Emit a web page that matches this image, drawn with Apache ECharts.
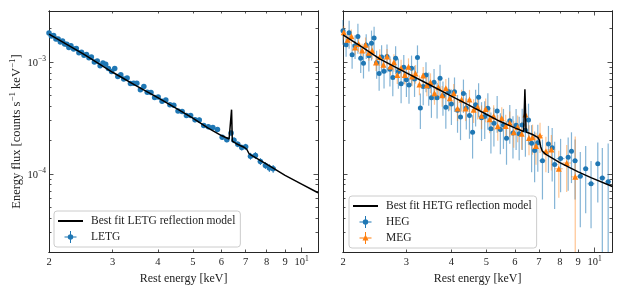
<!DOCTYPE html>
<html><head><meta charset="utf-8">
<script src="https://cdn.jsdelivr.net/npm/echarts@6/dist/echarts.min.js"></script>
<style>html,body{margin:0;padding:0;background:#fff}#c{width:623px;height:291px}</style>
</head><body><div id="c"></div><script>
// ---- data ----
const letgE = [2.00,2.03,2.06,2.09,2.12,2.15,2.18,2.21,2.24,2.27,2.30,2.34,2.38,2.42,2.46,2.50,2.54,2.58,2.62,2.67,2.72,2.77,2.82,2.87,2.92,2.98,3.04,3.10,3.16,3.22,3.29,3.36,3.43,3.50,3.58,3.66,3.74,3.83,3.92,4.01,4.11,4.21,4.32,4.43,4.55,4.67,4.80,4.93,5.07,5.21,5.36,5.52,5.68,5.85,6.03,6.21,6.38,6.50,6.66,6.83,7.00,7.22,7.45,7.69,7.94,8.14,8.34];
const letgF = [1.82e-3,1.71e-3,1.73e-3,1.61e-3,1.61e-3,1.51e-3,1.54e-3,1.45e-3,1.44e-3,1.35e-3,1.40e-3,1.31e-3,1.32e-3,1.21e-3,1.22e-3,1.15e-3,1.17e-3,1.09e-3,1.11e-3,1.00e-3,1.02e-3,9.26e-4,9.80e-4,9.57e-4,8.74e-4,8.24e-4,8.75e-4,7.42e-4,7.68e-4,7.05e-4,7.19e-4,6.44e-4,6.46e-4,6.47e-4,5.66e-4,6.05e-4,5.38e-4,5.35e-4,4.82e-4,4.86e-4,4.46e-4,4.57e-4,4.14e-4,4.11e-4,3.65e-4,3.61e-4,3.33e-4,3.33e-4,3.04e-4,3.03e-4,2.71e-4,2.64e-4,2.60e-4,2.49e-4,2.12e-4,2.02e-4,2.32e-4,2.00e-4,1.84e-4,1.72e-4,1.75e-4,1.44e-4,1.46e-4,1.29e-4,1.19e-4,1.13e-4,1.11e-4];
const letgErr = [0.03,0.03,0.03,0.03,0.03,0.03,0.03,0.03,0.03,0.03,0.03,0.03,0.03,0.03,0.03,0.03,0.03,0.03,0.03,0.03,0.035,0.035,0.035,0.035,0.035,0.035,0.035,0.035,0.035,0.035,0.035,0.035,0.035,0.035,0.035,0.04,0.04,0.04,0.04,0.04,0.04,0.04,0.04,0.04,0.04,0.04,0.04,0.05,0.05,0.05,0.05,0.05,0.05,0.05,0.05,0.05,0.05,0.06,0.06,0.06,0.06,0.07,0.07,0.07,0.07,0.08,0.08];

const hegE = [2.00,2.04,2.08,2.12,2.16,2.20,2.24,2.28,2.32,2.36,2.40,2.44,2.48,2.52,2.56,2.60,2.65,2.70,2.75,2.80,2.85,2.90,2.95,3.00,3.05,3.10,3.16,3.22,3.28,3.34,3.40,3.46,3.52,3.58,3.65,3.72,3.79,3.86,3.93,4.00,4.08,4.16,4.24,4.32,4.40,4.49,4.58,4.67,4.76,4.85,4.95,5.05,5.15,5.25,5.36,5.47,5.58,5.69,5.81,5.93,6.05,6.17,6.29,6.42,6.55,6.68,6.81,6.95,7.16,7.44,7.62,7.74,8.04,8.44,8.62,8.82,9.12,9.44,9.77,10.2,10.5,10.9];
const hegF = [1.90e-3,1.43e-3,1.83e-3,1.16e-3,1.40e-3,1.69e-3,1.08e-3,9.76e-4,1.42e-3,1.14e-3,1.47e-3,1.64e-3,9.84e-4,7.90e-4,1.11e-3,8.29e-4,1.12e-3,8.64e-4,7.26e-4,1.08e-3,8.23e-4,6.38e-4,8.97e-4,6.95e-4,6.23e-4,8.78e-4,7.06e-4,1.10e-3,3.88e-4,6.05e-4,7.67e-4,6.07e-4,4.80e-4,6.61e-4,4.80e-4,7.17e-4,5.00e-4,3.95e-4,5.43e-4,4.21e-4,5.43e-4,3.70e-4,3.23e-4,5.24e-4,3.89e-4,3.32e-4,2.36e-4,4.15e-4,4.83e-4,3.17e-4,3.25e-4,3.87e-4,2.53e-4,2.83e-4,3.65e-4,2.49e-4,2.74e-4,2.08e-4,2.99e-4,2.32e-4,2.72e-4,2.28e-4,2.73e-4,2.45e-4,3.03e-4,1.88e-4,1.62e-4,1.90e-4,1.31e-4,1.85e-4,1.71e-4,1.21e-4,1.37e-4,1.41e-4,1.59e-4,1.31e-4,9.5e-5,1.11e-4,8.15e-5,1.23e-4,9.2e-5,8.5e-5];
const hegErr = [0.25,0.22,0.28,0.25,0.24,0.3,0.26,0.27,0.25,0.28,0.3,0.26,0.28,0.3,0.27,0.3,0.28,0.3,0.32,0.28,0.3,0.33,0.29,0.3,0.32,0.3,0.31,0.28,0.35,0.32,0.3,0.33,0.34,0.31,0.35,0.32,0.34,0.36,0.33,0.35,0.34,0.37,0.38,0.33,0.36,0.38,0.42,0.36,0.34,0.38,0.37,0.36,0.4,0.38,0.36,0.4,0.39,0.42,0.38,0.41,0.4,0.42,0.4,0.42,0.4,0.45,0.48,0.45,0.55,0.45,0.5,0.6,0.5,0.5,0.48,0.55,0.65,0.6,0.6,0.55,0.85,1.2];

const megE = [2.01,2.06,2.11,2.16,2.21,2.26,2.31,2.36,2.41,2.47,2.53,2.59,2.65,2.71,2.77,2.83,2.90,2.97,3.04,3.11,3.18,3.26,3.34,3.42,3.50,3.59,3.68,3.77,3.86,3.96,4.06,4.16,4.27,4.38,4.49,4.61,4.73,4.85,4.98,5.11,5.24,5.38,5.52,5.66,5.81,5.96,6.11,6.27,6.42,6.57,6.72,6.87,7.05,7.32,7.58,7.95,8.36,8.83];
const megF = [1.85e-3,1.58e-3,1.70e-3,1.35e-3,1.45e-3,1.27e-3,1.43e-3,1.21e-3,1.26e-3,9.92e-4,1.11e-3,9.44e-4,1.12e-3,9.13e-4,9.96e-4,7.65e-4,8.86e-4,7.67e-4,9.06e-4,7.41e-4,7.91e-4,6.31e-4,7.59e-4,6.19e-4,6.60e-4,5.25e-4,5.94e-4,5.04e-4,5.84e-4,4.74e-4,5.25e-4,3.85e-4,4.62e-4,3.85e-4,4.62e-4,3.75e-4,3.97e-4,3.30e-4,3.80e-4,3.08e-4,3.28e-4,2.67e-4,3.15e-4,2.68e-4,2.87e-4,2.35e-4,2.62e-4,2.28e-4,3.40e-4,2.09e-4,2.12e-4,1.77e-4,2.2e-4,1.59e-4,1.65e-4,1.11e-4,1.25e-4,9.4e-5];
const megErr = [0.14,0.14,0.15,0.14,0.15,0.15,0.16,0.15,0.16,0.16,0.17,0.16,0.17,0.17,0.18,0.17,0.18,0.18,0.19,0.18,0.19,0.2,0.19,0.2,0.2,0.21,0.2,0.21,0.21,0.22,0.21,0.23,0.22,0.23,0.22,0.24,0.23,0.24,0.24,0.25,0.25,0.26,0.25,0.26,0.26,0.27,0.27,0.28,0.25,0.3,0.3,0.32,0.3,0.35,0.35,0.45,0.45,1.3];

const modelLE = [2.0,2.5,3.0,3.5,4.0,4.5,5.0,5.5,6.0,6.3,6.37,6.40,6.43,6.6,6.95,7.05,7.15,7.25,8.0,9.0,10.0,11.1];
const modelLF = [1.78e-3,1.17e-3,8.1e-4,6.1e-4,4.8e-4,3.85e-4,3.15e-4,2.58e-4,2.2e-4,2.05e-4,1.98e-4,3.75e-4,1.96e-4,1.86e-4,1.72e-4,1.66e-4,1.52e-4,1.47e-4,1.22e-4,9.7e-5,8.1e-5,6.77e-5];
const modelHE = [2.0,2.25,2.535,3.0,3.5,4.0,4.5,5.0,5.45,6.0,6.35,6.40,6.45,6.7,6.95,7.02,7.08,7.15,7.3,8.0,9.0,9.8,11.2];
const modelHF = [1.75e-3,1.37e-3,1.06e-3,8.0e-4,6.2e-4,4.95e-4,4.07e-4,3.41e-4,2.95e-4,2.58e-4,2.39e-4,5.7e-4,2.37e-4,2.26e-4,2.12e-4,2.0e-4,1.75e-4,1.6e-4,1.5e-4,1.26e-4,1.04e-4,9.2e-5,7.7e-5];

const xTickLabels = [2,3,4,5,6,7,8,9,10];
const xMinorTicks = [2,3,4,5,6,7,8,9];
const xMajorTicks = [10];
const yMajorTicks = [1e-4,1e-3];
const yMinorTicks = [2e-5,3e-5,4e-5,5e-5,6e-5,7e-5,8e-5,9e-5,2e-4,3e-4,4e-4,5e-4,6e-4,7e-4,8e-4,9e-4,2e-3];
const XMIN = 2, XMAX = [11.1, 11.17], YMIN = 2.0e-5, YMAX = 2.86e-3;

// ---- styling ----
const FONT = '"Liberation Serif","DejaVu Serif",serif';
const TXT = '#222';
const AX = '#262626';
const BLUE = '#1f77b4', ORANGE = '#ff7f0e';
const supRich = {
  b: {fontFamily: FONT, fontSize: 10.5, color: TXT, lineHeight: 13, verticalAlign: 'bottom'},
  s: {fontFamily: FONT, fontSize: 7.5, color: TXT, lineHeight: 13, verticalAlign: 'top'}
};

function xAxes(g) {
  const c = {type:'log', logBase:10, gridIndex:g, min:XMIN, max:XMAX[g],
    axisLine:{show:true, onZero:false, lineStyle:{color:AX, width:1}}, splitLine:{show:false}};
  const minor = {show:true, inside:true, length:2.5, customValues:xMinorTicks, lineStyle:{color:AX, width:0.8}};
  const major = {show:true, inside:true, length:4.5, customValues:xMajorTicks, lineStyle:{color:AX, width:0.8}};
  return [
    Object.assign({}, c, {position:'bottom', axisTick:minor,
      axisLabel:{show:true, customValues:xTickLabels, margin:3,
        formatter: v => Math.abs(v-10) < 1e-6 ? '{b|10}{s|1}' : '{b|' + Math.round(v) + '}', rich:supRich},
      name:'Rest energy [keV]', nameLocation:'middle', nameGap:13,
      nameTextStyle:{fontFamily:FONT, fontSize:12, color:TXT}}),
    Object.assign({}, c, {position:'top', axisTick:minor, axisLabel:{show:false}}),
    Object.assign({}, c, {position:'bottom', axisTick:major, axisLabel:{show:false}}),
    Object.assign({}, c, {position:'top', axisTick:major, axisLabel:{show:false}})
  ];
}
function yAxes(g) {
  const c = {type:'log', logBase:10, gridIndex:g, min:YMIN, max:YMAX,
    axisLine:{show:true, onZero:false, lineStyle:{color:AX, width:1}}, splitLine:{show:false}};
  const minor = {show:true, inside:true, length:2.5, customValues:yMinorTicks, lineStyle:{color:AX, width:0.8}};
  const major = {show:true, inside:true, length:4.5, customValues:yMajorTicks, lineStyle:{color:AX, width:0.8}};
  const first = Object.assign({}, c, {position:'left', axisTick:major,
      axisLabel: g === 0 ? {show:true, customValues:yMajorTicks, margin:3,
        formatter: v => '{b|10}{s|\u2212' + Math.round(-Math.log10(v)) + '}', rich:supRich} : {show:false}});
  if (g === 0) {
    first.name = '{a|Energy flux [counts s}{s|\u22121}{a| keV}{s|\u22121}{a|]}';
    first.nameLocation = 'middle';
    first.nameGap = 23;
    first.nameTextStyle = {rich:{
      a:{fontFamily:FONT, fontSize:12.5, color:TXT, lineHeight:15, verticalAlign:'bottom'},
      s:{fontFamily:FONT, fontSize:9, color:TXT, lineHeight:15, verticalAlign:'top'}}};
  }
  return [
    first,
    Object.assign({}, c, {position:'left', axisTick:minor, axisLabel:{show:false}}),
    Object.assign({}, c, {position:'right', axisTick:major, axisLabel:{show:false}}),
    Object.assign({}, c, {position:'right', axisTick:minor, axisLabel:{show:false}})
  ];
}

function halfWidths(xs) {
  return xs.map((x, i) => {
    const nb = i < xs.length - 1 ? xs[i+1] - x : x - xs[i-1];
    return nb / 2;
  });
}
function errSeries(xs, ys, errs, color, lw, xi, yi) {
  const hw = halfWidths(xs);
  const data = xs.map((x, i) => {
    const lo = ys[i] * (1 - errs[i]);
    return [x, ys[i], lo > YMIN ? lo : YMIN, Math.min(ys[i] * (1 + errs[i]), YMAX), x - hw[i], x + hw[i]];
  });
  return {type:'custom', xAxisIndex:xi, yAxisIndex:yi, silent:true, z:2, data,
    encode:{x:0, y:1},
    renderItem: (params, api) => {
      const x = api.value(0), y = api.value(1);
      const a = api.coord([x, api.value(2)]), b = api.coord([x, api.value(3)]);
      const c = api.coord([api.value(4), y]), d = api.coord([api.value(5), y]);
      return {type:'group', children:[
        {type:'line', shape:{x1:a[0], y1:a[1], x2:b[0], y2:b[1]}, style:{stroke:color, lineWidth:lw}},
        {type:'line', shape:{x1:c[0], y1:c[1], x2:d[0], y2:d[1]}, style:{stroke:color, lineWidth:lw}}
      ]};
    }};
}
const pts = (xs, ys) => xs.map((x, i) => [x, ys[i]]);
const lineIcon = 'path://M0,0H50V4H0Z';
const crossIcon = 'path://M0,11H24V13H0Z M11,0H13V24H11Z M12,6.5A5.5,5.5 0 1,1 11.99,6.5Z';
const triIcon = 'path://M0,11H24V13H0Z M11,0H13V24H11Z M12,5L18,17H6Z';

const legendCommon = {orient:'vertical', align:'left', itemWidth:25, itemHeight:12, itemGap:4,
  padding:[4,5,4,4], borderColor:'#cccccc', borderWidth:1, borderRadius:3,
  backgroundColor:'rgba(255,255,255,0.85)', selectedMode:false,
  textStyle:{fontFamily:FONT, fontSize:11.5, color:TXT, lineHeight:12, padding:[0,0,0,3]}};

const option = {
  animation:false,
  backgroundColor:'#fff',
  grid:[
    {left:49, top:11, width:269, height:241, outerBoundsMode:'none', containLabel:false},
    {left:343, top:11, width:269, height:241, outerBoundsMode:'none', containLabel:false}
  ],
  xAxis: xAxes(0).concat(xAxes(1)),
  yAxis: yAxes(0).concat(yAxes(1)),
  legend:[
    Object.assign({}, legendCommon, {left:54, top:211,
      data:[{name:'Best fit LETG reflection model', icon:lineIcon}, {name:'LETG', icon:crossIcon}]}),
    Object.assign({}, legendCommon, {left:349, top:196,
      data:[{name:'Best fit HETG reflection model', icon:lineIcon}, {name:'HEG', icon:crossIcon}, {name:'MEG', icon:triIcon}]})
  ],
  series:[
    errSeries(letgE, letgF, letgErr, BLUE, 1, 0, 0),
    {name:'LETG', type:'scatter', xAxisIndex:0, yAxisIndex:0, data:pts(letgE, letgF),
      symbol:'circle', symbolSize:5.5, itemStyle:{color:BLUE, opacity:1}, z:3},
    {name:'Best fit LETG reflection model', type:'line', xAxisIndex:0, yAxisIndex:0, data:pts(modelLE, modelLF),
      symbol:'none', lineStyle:{color:'#000', width:1.5}, itemStyle:{color:'#000'}, z:4},

    errSeries(hegE, hegF, hegErr, 'rgba(31,119,180,0.55)', 1.2, 4, 4),
    errSeries(megE, megF, megErr, 'rgba(255,127,14,0.45)', 1.2, 4, 4),
    {name:'HEG', type:'scatter', xAxisIndex:4, yAxisIndex:4, data:pts(hegE, hegF),
      symbol:'circle', symbolSize:5, itemStyle:{color:BLUE, opacity:1}, z:3},
    {name:'MEG', type:'scatter', xAxisIndex:4, yAxisIndex:4, data:pts(megE, megF),
      symbol:'triangle', symbolSize:6, itemStyle:{color:ORANGE, opacity:1}, z:3},
    {name:'Best fit HETG reflection model', type:'line', xAxisIndex:4, yAxisIndex:4, data:pts(modelHE, modelHF),
      symbol:'none', lineStyle:{color:'#000', width:1.5}, itemStyle:{color:'#000'}, z:4}
  ]
};
const chart = echarts.init(document.getElementById('c'), null, {renderer:'canvas'});
chart.setOption(option);
</script></body></html>
